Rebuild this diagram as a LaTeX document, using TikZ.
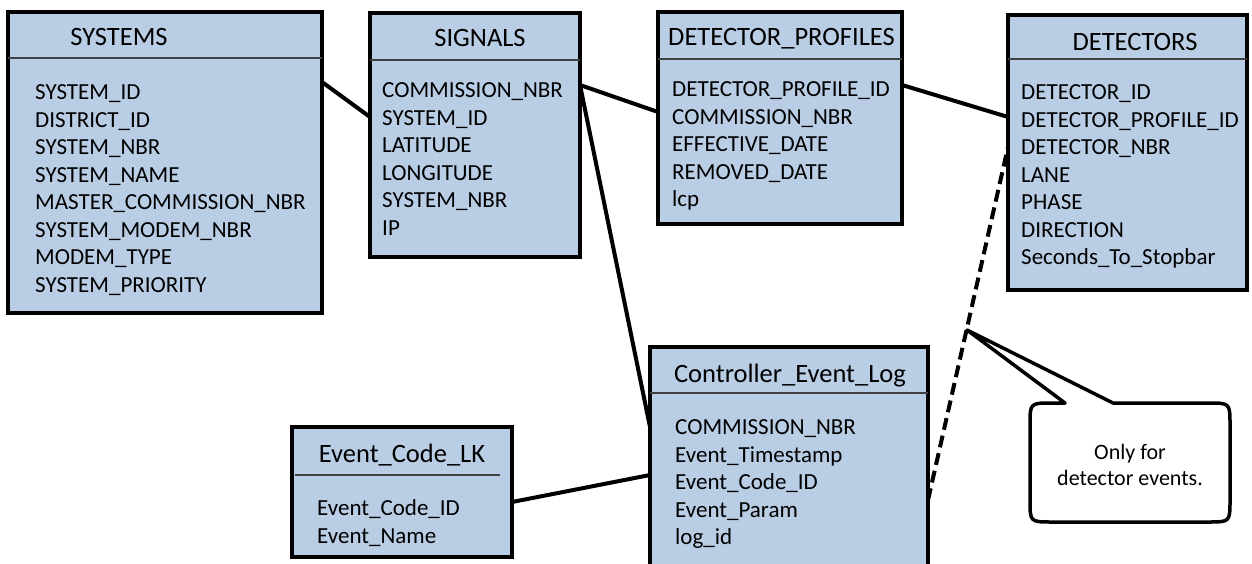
\documentclass[tikz,border=0pt]{standalone}
\usepackage{fontspec}
\setmainfont{Carlito}
\usetikzlibrary{calc}
\definecolor{tblblue}{RGB}{185,205,229}

\begin{document}
\begin{tikzpicture}[x=1pt,y=-1pt,
    tbl/.style={draw,line width=4pt,fill=tblblue,inner sep=0pt,outer sep=0pt},
    hdr/.style={font=\fontsize{26.5}{30}\selectfont,inner sep=0pt,anchor=base},
    fld/.style={font=\fontsize{23}{27.5}\selectfont,inner sep=0pt,align=left,anchor=north west},
    sep/.style={draw=black!75,line width=1.2pt},
    link/.style={line width=4pt}]
    \useasboundingbox (0,0) rectangle (1252,564);
    \clip (0,0) rectangle (1252,564);

    % tables
    \node[tbl,minimum width=314pt,minimum height=301pt] (systems) at (165,162.5) {};
    \node[hdr] (systems-h) at (119,46) {SYSTEMS};
    \draw[sep] (8,58) -- (322,58);
    \node[fld] (systems-f) at (35,84.6) {SYSTEM\_ID\\DISTRICT\_ID\\SYSTEM\_NBR\\SYSTEM\_NAME\\MASTER\_COMMISSION\_NBR\\SYSTEM\_MODEM\_NBR\\MODEM\_TYPE\\SYSTEM\_PRIORITY};

    \node[tbl,minimum width=210pt,minimum height=244pt] (signals) at (475,135) {};
    \node[hdr] (signals-h) at (480,47) {SIGNALS};
    \draw[sep] (370,60) -- (580,60);
    \node[fld] (signals-f) at (382,82.6) {COMMISSION\_NBR\\SYSTEM\_ID\\LATITUDE\\LONGITUDE\\SYSTEM\_NBR\\IP};

    \node[tbl,minimum width=244pt,minimum height=212pt] (profiles) at (780,118) {};
    \node[hdr] (profiles-h) at (781.5,46) {DETECTOR\_PROFILES};
    \draw[sep] (658,59) -- (902,59);
    \node[fld] (profiles-f) at (672,81.6) {DETECTOR\_PROFILE\_ID\\COMMISSION\_NBR\\EFFECTIVE\_DATE\\REMOVED\_DATE\\lcp};

    \node[tbl,minimum width=239pt,minimum height=275pt] (detectors) at (1127.5,152.5) {};
    \node[hdr] (detectors-h) at (1135,51) {DETECTORS};
    \draw[sep] (1008,59) -- (1247,59);
    \node[fld] (detectors-f) at (1021,84.6) {DETECTOR\_ID\\DETECTOR\_PROFILE\_ID\\DETECTOR\_NBR\\LANE\\PHASE\\DIRECTION\\Seconds\_To\_Stopbar};

    \node[tbl,minimum width=278pt,minimum height=228pt] (eventlog) at (789,461) {};
    \node[hdr] (eventlog-h) at (790,382) {Controller\_Event\_Log};
    \draw[sep] (650,393) -- (928,393);
    \node[fld] (eventlog-f) at (675,419.6) {COMMISSION\_NBR\\Event\_Timestamp\\Event\_Code\_ID\\Event\_Param\\log\_id};

    \node[tbl,minimum width=220pt,minimum height=130pt] (eventcode) at (402,492) {};
    \node[hdr] (eventcode-h) at (402,462) {Event\_Code\_LK};
    \draw[sep] (295,475) -- (500,475);
    \node[fld] (eventcode-f) at (317,499.6) {Event\_Code\_ID\\Event\_Name};

    % relations
    \draw[link] ($(systems.north east)+(0,70)$) -- ($(signals.north west)+(0,104)$);
    \draw[link] ($(signals.north east)+(0,72)$) -- ($(profiles.north west)+(0,100)$);
    \draw[link] ($(signals.north east)+(0,72)$) -- ($(eventlog.north west)+(0,80)$);
    \draw[link] ($(profiles.north east)+(0,73)$) -- ($(detectors.north west)+(0,102)$);
    \draw[link] ($(eventcode.north east)+(0,75)$) -- ($(eventlog.north west)+(0,128)$);
    \draw[link,dash pattern=on 12pt off 6pt] ($(eventlog.north east)+(0,153)$) -- ($(detectors.north west)+(0,132)$);

    % callout
    \draw[line width=3.5pt,line join=round,fill=white] (1065,403) -- (967,330) -- (1113,403) -- (1208,403)
        .. controls (1230,403) .. (1230,425) -- (1230,500) .. controls (1230,522) .. (1208,522)
        -- (1052,522) .. controls (1030,522) .. (1030,500) -- (1030,425) .. controls (1030,403) .. (1052,403) -- cycle;
    \node[font=\fontsize{22}{26}\selectfont,align=center,inner sep=0pt] (note) at (1130,465) {Only for\\detector events.};
\end{tikzpicture}
\end{document}
